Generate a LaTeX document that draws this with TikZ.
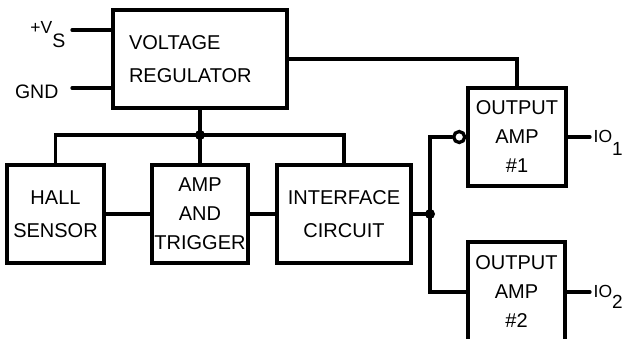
\documentclass[tikz,border=0pt]{standalone}
\usepackage{fontspec}
\setmainfont{Liberation Sans}
\begin{document}
\begin{tikzpicture}[x=1pt, y=-1pt, line width=3.3pt, line cap=round,
                    line join=miter,
  blk/.style={draw, rectangle, inner sep=0pt, align=center,
              minimum height=98pt, font=\fontsize{20}{29}\selectfont},
  pin/.style={inner sep=0pt, font=\fontsize{19.5}{19.5}\selectfont},
  jdot/.style={circle, fill, inner sep=0pt, minimum size=10pt}]
  \useasboundingbox (0,0) rectangle (626,338);

  % Blocks
  \node[blk, minimum width=174pt, text width=142pt, align=left] (vreg) at (200,59)
       {VOLTAGE\\[4pt]REGULATOR};
  \node[blk, minimum width=97pt]  (hall)  at (55.5,214) {HALL\\[4pt]SENSOR};
  \node[blk, minimum width=96pt]  (amp)   at (200,214)  {AMP\\AND\\TRIGGER};
  \node[blk, minimum width=134pt] (iface) at (344,214)  {INTERFACE\\[4pt]CIRCUIT};
  \node[blk, minimum width=98pt]  (oa1)   at (517,137)  {OUTPUT\\AMP\\\#1};
  \node[blk, minimum width=97pt, minimum height=100pt] (oa2) at (516.5,292)
       {OUTPUT\\AMP\\\#2};

  % Inverting input of output amp 1
  \node[circle, draw, inner sep=0pt, minimum size=11pt, anchor=east] (inv) at (oa1.west) {};

  % Supply pins
  \coordinate (vs)  at (72,30);
  \coordinate (gnd) at (72,88);
  \draw (vs)  -- (vs -| vreg.west);
  \draw (gnd) -- (gnd -| vreg.west);
  \node[pin, anchor=base east] (vslbl) at (67,33)
       {{\fontsize{17.5}{17.5}\selectfont +V}\raisebox{-14pt}{S}};
  \node[pin, anchor=base east] (gndlbl) at (60,98) {GND};

  % Supply bus
  \coordinate (bus) at (200,135);
  \draw (vreg.south) -- (amp.north);
  \draw (hall.north) -- (hall.north |- bus) -- (iface.north |- bus) -- (iface.north);
  \node[jdot] (busdot) at (bus) {};

  % Signal chain
  \draw (hall.east) -- (amp.west);
  \draw (amp.east) -- (iface.west);
  \coordinate (split) at (430,214);
  \draw (iface.east) -- (split);
  \draw (split) |- (inv.west);
  \draw (split) |- (oa2.west);
  \node[jdot] (splitdot) at (split) {};
  \draw (vreg.east) -| (oa1.north);

  % Outputs
  \coordinate (io1) at (590,137);
  \coordinate (io2) at (590,292);
  \draw (oa1.east) -- (io1);
  \draw (oa2.east) -- (io2);
  \node[pin, anchor=base west, font=\fontsize{17.5}{17.5}\selectfont] (io1lbl) at (592,142)
       {IO\raisebox{-13pt}{\fontsize{19}{19}\selectfont 1}};
  \node[pin, anchor=base west, font=\fontsize{17.5}{17.5}\selectfont] (io2lbl) at (592,297)
       {IO\raisebox{-11pt}{\fontsize{19}{19}\selectfont 2}};
\end{tikzpicture}
\end{document}
